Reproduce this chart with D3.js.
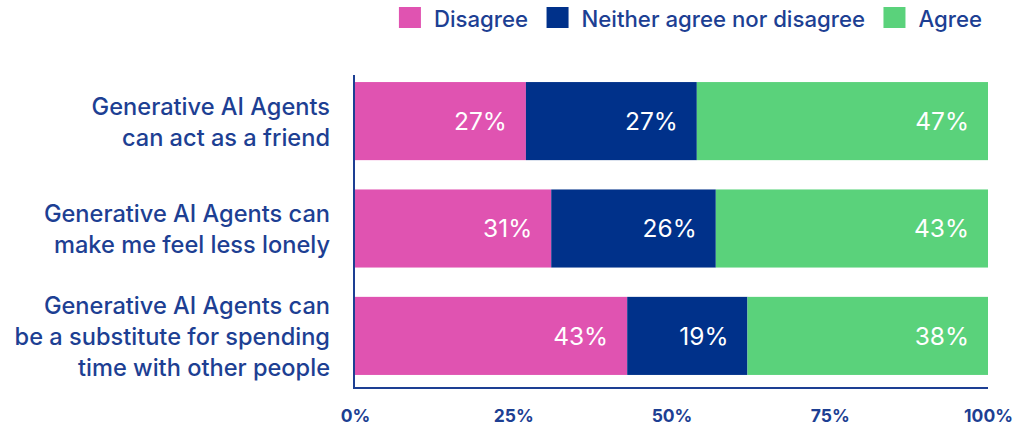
<!DOCTYPE html>
<html>
<head>
<meta charset="utf-8">
<script src="https://cdn.jsdelivr.net/npm/d3@7"></script>
<style>
  html, body { margin: 0; padding: 0; background: #ffffff; }
  svg { display: block; font-family: Inter, "Noto Sans", sans-serif; }
</style>
</head>
<body>
<svg id="chart" width="1026" height="425"></svg>
<script>
// Survey statements (each label split into its display lines)
const statements = [
  ["Generative AI Agents", "can act as a friend"],
  ["Generative AI Agents can", "make me feel less lonely"],
  ["Generative AI Agents can", "be a substitute for spending", "time with other people"]
];
const responses = ["Disagree", "Neither agree nor disagree", "Agree"];
const disagree = [27, 31, 43];
const neither = [27, 26, 19];
const agree = [47, 43, 38];
const tickValues = [0, 25, 50, 75, 100];
const tickLabels = ["0%", "25%", "50%", "75%", "100%"];
const palette = ["#e053b1", "#00318a", "#5ad27b"];
const ink = "#1d3f93";

const rows = statements.map((s, i) => ({
  key: i,
  "Disagree": disagree[i],
  "Neither agree nor disagree": neither[i],
  "Agree": agree[i]
}));

const svg = d3.select("#chart");

// Rounded shares can total 101%; the scale clamps the bar end at 100%
const x = d3.scaleLinear().domain([0, 100]).range([355, 988]).clamp(true);
const y = d3.scaleBand()
  .domain(rows.map(d => d.key))
  .range([67.4, 389.6])
  .paddingInner(0.273)
  .paddingOuter(0.1365);
const color = d3.scaleOrdinal().domain(responses).range(palette);

const series = d3.stack().keys(responses)(rows);

const layers = svg.append("g").selectAll("g")
  .data(series)
  .join("g")
  .attr("fill", s => color(s.key));

layers.selectAll("rect")
  .data(s => s.map(d => Object.assign(d, { series: s.key })))
  .join("rect")
  .attr("x", d => x(d[0]))
  .attr("y", d => y(d.data.key))
  .attr("width", d => x(d[1]) - x(d[0]))
  .attr("height", y.bandwidth());

// Percent labels, right-aligned inside each segment
layers.selectAll("text")
  .data(s => s)
  .join("text")
  .attr("x", d => x(d[1]) - 19)
  .attr("y", d => y(d.data.key) + y.bandwidth() / 2)
  .attr("dy", "0.36em")
  .attr("text-anchor", "end")
  .attr("fill", "#ffffff")
  .attr("font-size", 24.5)
  .attr("font-weight", 400)
  .text(d => d.data[d.series] + "%");

// Axis lines
svg.append("line")
  .attr("x1", 354).attr("x2", 354)
  .attr("y1", 75).attr("y2", 389)
  .attr("stroke", ink).attr("stroke-width", 2);
svg.append("line")
  .attr("x1", 353).attr("x2", x(100))
  .attr("y1", 388).attr("y2", 388)
  .attr("stroke", ink).attr("stroke-width", 2);

// X tick labels
const xAxis = d3.axisBottom(x)
  .tickValues(tickValues)
  .tickFormat((d, i) => tickLabels[i])
  .tickSize(0)
  .tickPadding(0);
const gx = svg.append("g").attr("transform", "translate(0,410)").call(xAxis);
gx.select(".domain").remove();
gx.selectAll("text")
  .attr("font-family", "Inter, sans-serif")
  .attr("font-size", 17.5)
  .attr("font-weight", 700)
  .attr("fill", ink);

// Category labels, right-aligned, multi-line
const lineGap = 31;
const cat = svg.append("g").selectAll("text")
  .data(rows)
  .join("text")
  .attr("text-anchor", "end")
  .attr("fill", ink)
  .attr("font-size", 23.6)
  .attr("font-weight", 500);
cat.each(function(d) {
  const lines = statements[d.key];
  const cy = y(d.key) + y.bandwidth() / 2 + 1;
  const top = cy - (lines.length - 1) * lineGap / 2;
  d3.select(this).selectAll("tspan")
    .data(lines)
    .join("tspan")
    .attr("x", 330)
    .attr("y", (l, j) => top + j * lineGap)
    .attr("dy", "0.36em")
    .text(l => l);
});

// Legend, laid out left to right and right-aligned to the plot
const legend = svg.append("g");
const items = legend.selectAll("g")
  .data(responses)
  .join("g");
items.append("rect")
  .attr("width", 22).attr("height", 21)
  .attr("y", 7)
  .attr("fill", d => color(d));
items.append("text")
  .attr("x", 35)
  .attr("y", 19.5)
  .attr("dy", "0.36em")
  .attr("fill", ink)
  .attr("font-size", 22.2)
  .attr("font-weight", 500)
  .text(d => d);
let cursor = 0;
const offsets = [];
items.each(function() {
  offsets.push(cursor);
  const w = 35 + this.querySelector("text").getComputedTextLength();
  cursor += w + 18.5;
});
const totalW = cursor - 18.5;
const startX = 982 - totalW;
items.attr("transform", (d, i) => `translate(${startX + offsets[i]},0)`);
</script>
</body>
</html>
